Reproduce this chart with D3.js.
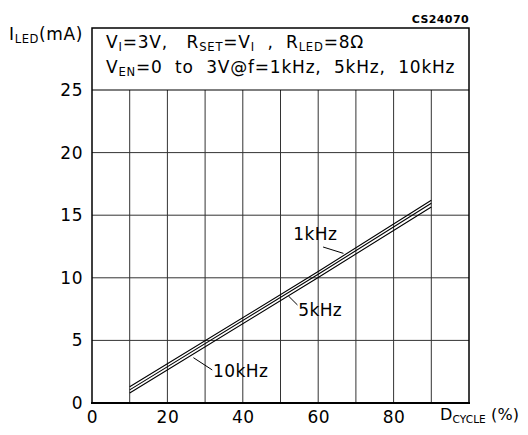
<!DOCTYPE html>
<html>
<head>
<meta charset="utf-8">
<script src="https://cdn.jsdelivr.net/npm/d3@7"></script>
<style>
  body { margin: 0; background: #fff; }
  svg text { font-family: 'DejaVu Sans', sans-serif; fill: #000; }
</style>
</head>
<body>
<div id="chart"></div>
<script>
// duty cycle (%) where each curve was read
const dutyCycle = [10, 60, 90];
// LED current (mA) per frequency
const curve1k = [1.3, 10.5, 16.2];
const curve5k = [1.05, 10.28, 15.95];
const curve10k = [0.8, 10.03, 15.65];
const seriesNames = ['1kHz', '5kHz', '10kHz'];

const xTicks = [0, 20, 40, 60, 80];
const xGrid = [10, 20, 30, 40, 50, 60, 70, 80, 90];
const yTicks = [0, 5, 10, 15, 20, 25];

// curve labels: text position and leader line, in data units
const labelPos = [
    { text: seriesNames[0], x: 53.4, y: 13.0, from: [66.7, 11.95], to: [61.3, 12.46] },
    { text: seriesNames[1], x: 54.7, y: 6.95, from: [52.1, 8.55], to: [54.5, 7.83] },
    { text: seriesNames[2], x: 32.1, y: 2.08, from: [26.9, 3.62], to: [31.9, 2.64] }
];

const width = 528, height = 435;
const margin = { top: 90, right: 59, bottom: 32, left: 92 };
const frameTop = 28;

const svg = d3.select('#chart').append('svg')
    .attr('width', width)
    .attr('height', height);

const x = d3.scaleLinear().domain([0, 100]).range([margin.left, width - margin.right]);
const y = d3.scaleLinear().domain([0, 25]).range([height - margin.bottom, margin.top]);

// grid
svg.append('g')
    .selectAll('line')
    .data(xGrid)
    .enter().append('line')
    .attr('x1', d => x(d)).attr('x2', d => x(d))
    .attr('y1', y(0)).attr('y2', y(25))
    .attr('stroke', '#333').attr('stroke-width', 1);

svg.append('g')
    .selectAll('line')
    .data(yTicks.slice(1, -1))
    .enter().append('line')
    .attr('x1', x(0)).attr('x2', x(100))
    .attr('y1', d => y(d)).attr('y2', d => y(d))
    .attr('stroke', '#333').attr('stroke-width', 1);

// frame incl. header box
svg.append('rect')
    .attr('x', x(0)).attr('y', frameTop)
    .attr('width', x(100) - x(0))
    .attr('height', y(0) - frameTop)
    .attr('fill', 'none').attr('stroke', '#000').attr('stroke-width', 1.5);

svg.append('line')
    .attr('x1', x(0)).attr('x2', x(100))
    .attr('y1', y(25)).attr('y2', y(25))
    .attr('stroke', '#000').attr('stroke-width', 1.2);

svg.append('line')
    .attr('x1', x(0) - 1).attr('x2', x(100) + 1)
    .attr('y1', y(0)).attr('y2', y(0))
    .attr('stroke', '#000').attr('stroke-width', 2.2);

// axes (labels only)
const yAxis = svg.append('g')
    .attr('transform', `translate(${x(0) - 4},0)`)
    .call(d3.axisLeft(y).tickValues(yTicks).tickSize(0).tickPadding(5));
yAxis.select('.domain').remove();
yAxis.selectAll('text')
    .style('font-size', '17px')
    .style('letter-spacing', '0.5px')
    .style('font-family', "'DejaVu Sans', sans-serif");

const xAxis = svg.append('g')
    .attr('transform', `translate(0,${y(0) + 4})`)
    .call(d3.axisBottom(x).tickValues(xTicks).tickSize(0).tickPadding(4));
xAxis.select('.domain').remove();
xAxis.selectAll('text')
    .style('font-size', '17px')
    .style('letter-spacing', '0.5px')
    .style('font-family', "'DejaVu Sans', sans-serif");

// text with subscripts
function subText(g, parts, px, py, size, spacing, subScale) {
    const t = g.append('text').attr('x', px).attr('y', py)
        .style('font-size', size + 'px')
        .style('letter-spacing', spacing + 'px');
    let shift = 0;
    parts.forEach(p => {
        const target = p.sub ? 3 : 0;
        const ts = t.append('tspan').text(p.t).attr('dy', target - shift);
        if (p.sub) ts.style('font-size', (size * (subScale || 0.68)) + 'px');
        shift = target;
    });
    return t;
}

subText(svg, [{ t: 'I' }, { t: 'LED', sub: true }, { t: '(mA)' }], 9, 40, 17, 0.6);
subText(svg, [{ t: 'D' }, { t: 'CYCLE', sub: true }, { t: '\u00a0(%)' }], 440, 420, 16, 0.1, 0.66);

svg.append('text')
    .attr('x', x(100)).attr('y', 23)
    .attr('text-anchor', 'end')
    .style('font-size', '11px')
    .style('font-weight', '600')
    .style('letter-spacing', '0.4px')
    .text('CS24070');

// header text
subText(svg, [
    { t: 'V' }, { t: 'I', sub: true }, { t: '=3V,\u00a0\u00a0 R' }, { t: 'SET', sub: true },
    { t: '=V' }, { t: 'I', sub: true }, { t: '\u00a0 ,\u00a0 R' }, { t: 'LED', sub: true }, { t: '=8\u03a9' }
], 106, 48, 17, 0.8);
subText(svg, [
    { t: 'V' }, { t: 'EN', sub: true },
    { t: '=0\u00a0 to\u00a0 3V@f=1kHz,\u00a0 5kHz,\u00a0 10kHz' }
], 106, 73, 17, 0.8);

// curves
const line = d3.line().x(d => x(d[0])).y(d => y(d[1]));
[curve1k, curve5k, curve10k].forEach(vals => {
    svg.append('path')
        .datum(dutyCycle.map((d, i) => [d, vals[i]]))
        .attr('d', line)
        .attr('fill', 'none')
        .attr('stroke', '#000')
        .attr('stroke-width', 1.1);
});

// curve labels
labelPos.forEach(l => {
    svg.append('line')
        .attr('x1', x(l.from[0])).attr('y1', y(l.from[1]))
        .attr('x2', x(l.to[0])).attr('y2', y(l.to[1]))
        .attr('stroke', '#000').attr('stroke-width', 1);
    svg.append('text')
        .attr('x', x(l.x)).attr('y', y(l.y))
        .style('font-size', '17px')
        .style('letter-spacing', '0.4px')
        .text(l.text);
});
</script>
</body>
</html>
